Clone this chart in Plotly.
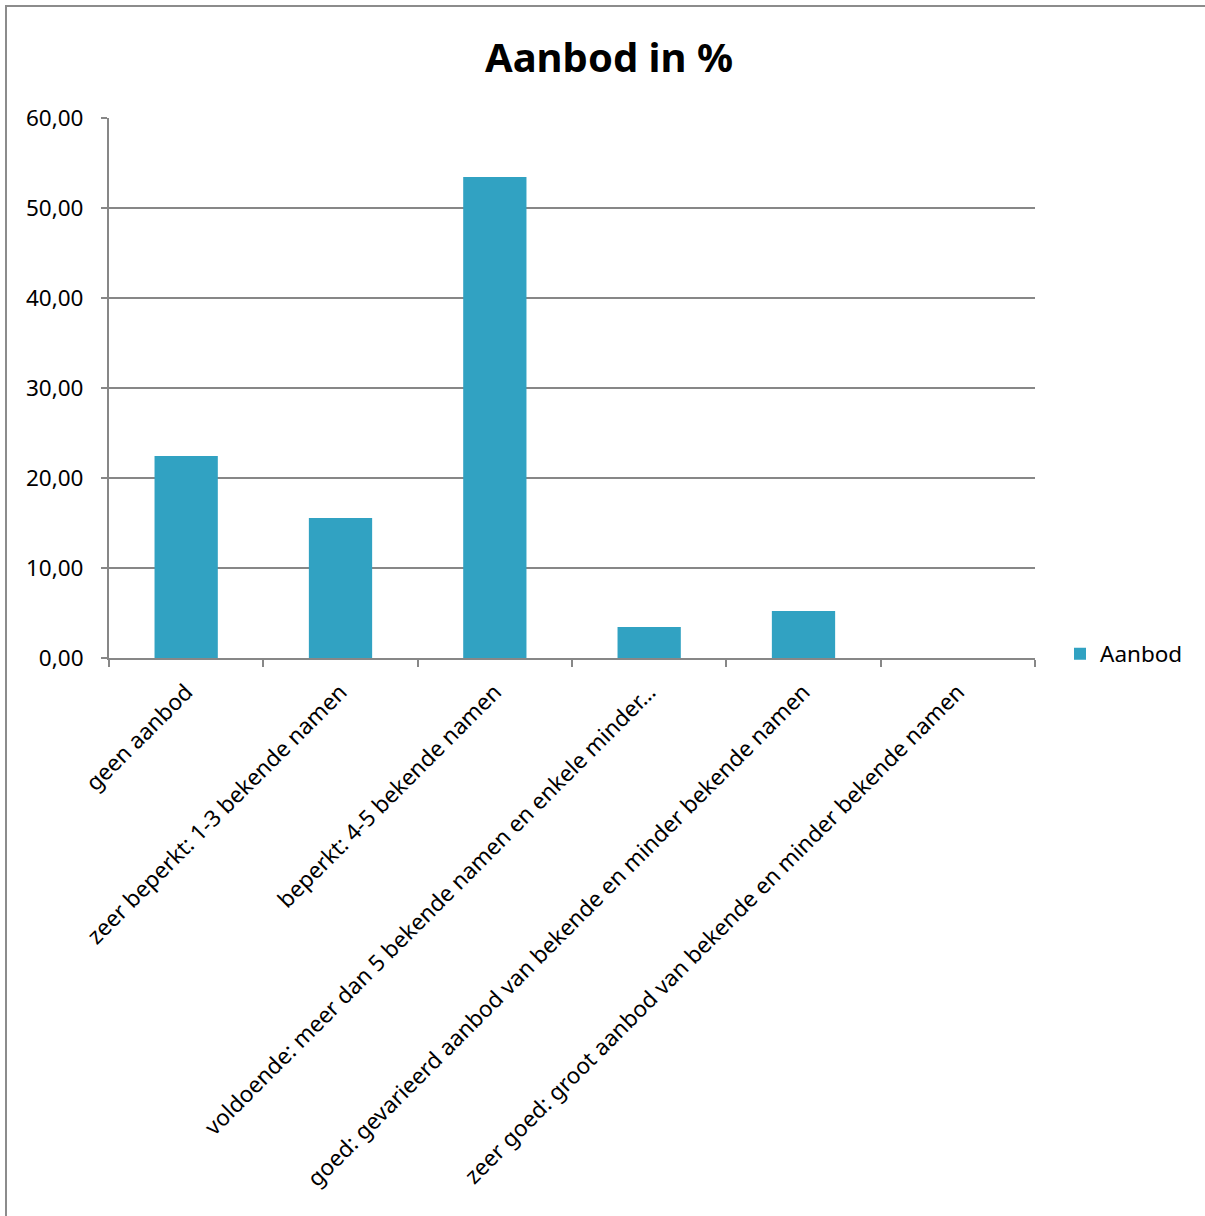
import plotly.graph_objects as go

categories = [
    "geen aanbod",
    "zeer beperkt: 1-3 bekende namen",
    "beperkt: 4-5 bekende namen",
    "voldoende: meer dan 5 bekende namen en enkele minder…",
    "goed: gevarieerd aanbod van bekende en minder bekende namen",
    "zeer goed: groot aanbod van bekende en minder bekende namen",
]
values = [22.44, 15.56, 53.44, 3.44, 5.22, 0.0]
series_name = "Aanbod"
title_text = "Aanbod in %"
y_ticks = [0, 10, 20, 30, 40, 50, 60]

W, H = 1205, 1216
L, R, T, B = 109, 1035, 118, 658
pw, ph = R - L, B - T

def px_x(x):
    return (x - L) / pw

def px_y(y):
    return (B - y) / ph

FONT = "Noto Sans"
GRAY = "#878787"
FS = 22.5

fig = go.Figure()
fig.add_trace(go.Bar(
    x=categories, y=values, name=series_name,
    marker=dict(color="#31a2c2", line=dict(width=0)),
    showlegend=True,
))

fig.update_layout(
    width=W, height=H,
    margin=dict(l=L, r=W - R, t=T, b=H - B, autoexpand=False),
    paper_bgcolor="white", plot_bgcolor="white",
    separators=",.",
    bargap=0.59,
    font=dict(family=FONT, color="black", size=FS),
    title=dict(text="<b>" + title_text + "</b>", x=609 / W, xanchor="center",
               y=1 - 58 / H, yanchor="middle",
               font=dict(family=FONT, size=40, color="black")),
    showlegend=True,
    legend=dict(x=px_x(1060), y=px_y(654), xanchor="left", yanchor="middle",
                font=dict(family=FONT, size=FS), bgcolor="rgba(0,0,0,0)",
                itemwidth=30),
    xaxis=dict(
        type="category", tickangle=-45, showline=True, linecolor=GRAY, linewidth=2,
        ticks="outside", tickson="boundaries", ticklen=7, tickcolor=GRAY, tickwidth=2,
        showgrid=False, tickfont=dict(family=FONT, size=FS), automargin=False,
        ticklabelstandoff=10,
    ),
    yaxis=dict(
        range=[0, 60], tickvals=y_ticks, tickformat=".2f",
        showline=True, linecolor=GRAY, linewidth=2, ticks="outside", ticklen=6,
        tickcolor=GRAY, tickwidth=2, showgrid=True, gridcolor=GRAY, gridwidth=1.5,
        zeroline=False, tickfont=dict(family=FONT, size=FS), automargin=False,
        ticklabelstandoff=13,
    ),
    shapes=[dict(type="rect", xref="paper", yref="paper",
                 x0=px_x(6), x1=px_x(1240), y0=px_y(1240), y1=px_y(6),
                 line=dict(color="#8c8c8c", width=2), fillcolor="rgba(0,0,0,0)",
                 layer="below")],
)

fig.write_html("out.html", config={"displayModeBar": False},
               post_script="document.body.style.margin='0';document.body.style.overflow='hidden';")
